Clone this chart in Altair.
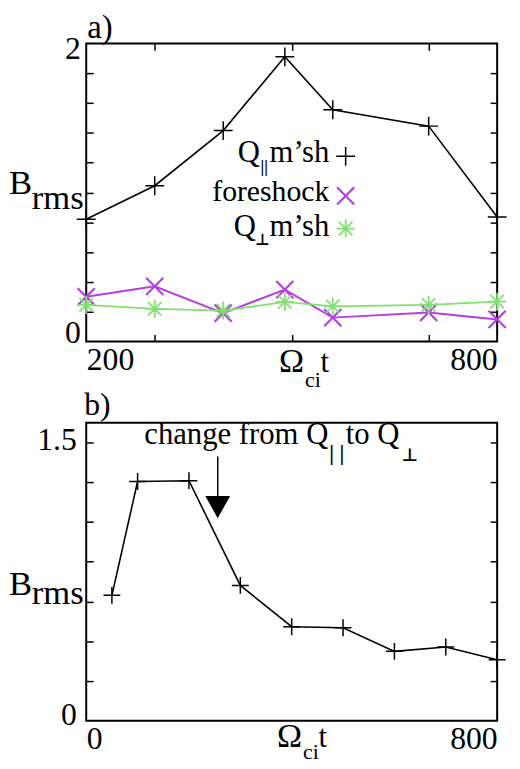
import altair as alt
import pandas as pd

SERIF = "Liberation Serif, Times New Roman, serif"
SYM = "DejaVu Sans"
MAG = "#b83ede"
GRN = "#82e070"

# ---------------- panel a data ----------------
t_a = [200, 300, 400, 490, 560, 700, 800]
qpar_a = [0.82, 1.045, 1.415, 1.91, 1.555, 1.445, 0.835]
fore_a = [0.30, 0.37, 0.19, 0.348, 0.16, 0.195, 0.148]
qperp_a = [0.245, 0.219, 0.207, 0.265, 0.235, 0.245, 0.267]

a_xdomain = [200, 800]
a_ydomain = [0, 2]
a_xlabels = [200, 800]
a_xticks = [300, 500, 700]
a_ylabels = [0, 2]
a_yticks = [0.2, 0.4, 0.6, 0.8, 1.0, 1.2, 1.4, 1.6, 1.8]

# ---------------- panel b data ----------------
t_b = [50, 100, 200, 300, 400, 500, 600, 700, 800]
brms_b = [0.631, 1.204, 1.208, 0.681, 0.473, 0.468, 0.349, 0.371, 0.307]

b_xdomain = [0, 800]
b_ydomain = [0, 1.5]
b_xlabels = [0, 800]
b_ylabels = [0, 1.5]
b_yticks = [0.2, 0.4, 0.6, 0.8, 1.0, 1.2, 1.4]

arrow_t = [256]
arrow_start = [1.33]
arrow_end = [1.12]
arrow_tip = [1.075]

W, H = 415, 301

PLUS = "M-1,0L1,0M0,-1L0,1"
CROSS = "M-1,-1L1,1M-1,1L1,-1"
STAR = PLUS + "M-0.75,-0.75L0.75,0.75M-0.75,0.75L0.75,-0.75"
HEAD = "M-1,-0.9L1,-0.9L0,0.9Z"


def label_axis_x(values):
    return alt.Axis(orient="bottom", values=values, format="d", labelFlush=True,
                    ticks=False, domain=False, grid=False, title=None,
                    labelFont=SERIF, labelFontSize=32, labelColor="black", labelPadding=3)


def label_axis_y(values, pad, fmt, off_low, off_high):
    return alt.Axis(orient="left", values=values, format=fmt, labelFlush=False,
                    labelBaseline="middle",
                    labelOffset={"condition": {"test": "datum.value === 0", "value": off_low},
                                 "value": off_high},
                    ticks=False, domain=False, grid=False, title=None,
                    labelFont=SERIF, labelFontSize=32, labelColor="black", labelPadding=pad)


def tick_axis(orient, values, offset):
    return alt.Axis(orient=orient, offset=offset, values=values, labels=False,
                    ticks=True, tickSize=7, tickWidth=1.5, tickColor="black",
                    domain=False, grid=False, title=None, minExtent=0)


def txt(s, x, y, size, align="left", font=SERIF, weight="normal"):
    return alt.Chart(pd.DataFrame({"s": [s]})).mark_text(
        x=x, y=y, fontSize=size, font=font, align=align, baseline="alphabetic",
        fontWeight=weight, color="black").encode(text="s:N")


def sym(shape, x, y, size, color, sw):
    return alt.Chart(pd.DataFrame({"s": [0]})).mark_point(
        shape=shape, x=x, y=y, size=size, filled=False, strokeWidth=sw,
        opacity=1).encode(color=alt.value(color))


# ---------------- panel a ----------------
df_a = pd.DataFrame({"t": t_a, "qpar": qpar_a, "fore": fore_a, "qperp": qperp_a})
xs_a = alt.Scale(domain=a_xdomain, nice=False, zero=False)
ys_a = alt.Scale(domain=a_ydomain, nice=False, zero=False)
base_a = alt.Chart(df_a)

a_layers = [
    base_a.mark_line(color="black", strokeWidth=1.6).encode(
        x=alt.X("t:Q", scale=xs_a, axis=label_axis_x(a_xlabels)),
        y=alt.Y("qpar:Q", scale=ys_a, axis=label_axis_y(a_ylabels, 6, "d", -9, 5))),
    base_a.mark_point(shape=PLUS, size=360, filled=False, strokeWidth=1.5, opacity=1).encode(
        x=alt.X("t:Q", scale=xs_a, axis=tick_axis("top", a_xticks, -H)),
        y=alt.Y("qpar:Q", scale=ys_a, axis=tick_axis("right", a_yticks, -W)),
        color=alt.value("black")),
    base_a.mark_line(color=MAG, strokeWidth=2).encode(
        x=alt.X("t:Q", scale=xs_a, axis=tick_axis("bottom", a_xticks, -H)),
        y=alt.Y("fore:Q", scale=ys_a, axis=tick_axis("left", a_yticks, -W))),
    base_a.mark_point(shape=CROSS, size=300, filled=False, strokeWidth=2.2, opacity=1).encode(
        x=alt.X("t:Q", scale=xs_a, axis=None),
        y=alt.Y("fore:Q", scale=ys_a, axis=None),
        color=alt.value(MAG)),
    base_a.mark_line(color=GRN, strokeWidth=1.8).encode(
        x=alt.X("t:Q", scale=xs_a, axis=None),
        y=alt.Y("qperp:Q", scale=ys_a, axis=None)),
    base_a.mark_point(shape=STAR, size=330, filled=False, strokeWidth=1.8, opacity=1).encode(
        x=alt.X("t:Q", scale=xs_a, axis=None),
        y=alt.Y("qperp:Q", scale=ys_a, axis=None),
        color=alt.value(GRN)),
    # panel letter and y title
    txt("a)", 1, -5, 33),
    txt("B", -78, 152, 35),
    txt("rms", -55, 167, 35),
    # legend
    txt("Q", 175.5, 120, 31, align="right"),
    txt("||", 176, 130, 17, weight="bold"),
    txt("m\u2019sh", 245.5, 120, 31, align="right"),
    sym(PLUS, 262, 114, 360, "black", 1.5),
    txt("foreshock", 245.5, 159, 30, align="right"),
    sym(CROSS, 262, 154, 300, MAG, 2.2),
    txt("Q", 171.5, 194, 31, align="right"),
    txt("\u22a5", 178, 204, 16, align="center", font=SYM, weight="bold"),
    txt("m\u2019sh", 245.5, 194, 31, align="right"),
    sym(STAR, 262, 187, 330, GRN, 1.8),
    # x title
    txt("\u03a9", 220, H + 31, 34, align="right"),
    txt("ci", 221, H + 46, 22),
    txt("t", 236.5, H + 31, 31),
]

panel_a = alt.layer(*a_layers).resolve_axis(x="independent", y="independent").properties(
    width=W, height=H)

# ---------------- panel b ----------------
df_b = pd.DataFrame({"t": t_b, "brms": brms_b})
df_arrow = pd.DataFrame({"t": arrow_t, "y1": arrow_start, "y2": arrow_end, "tip": arrow_tip})
xs_b = alt.Scale(domain=b_xdomain, nice=False, zero=False)
ys_b = alt.Scale(domain=b_ydomain, nice=False, zero=False)
base_b = alt.Chart(df_b)

b_layers = [
    base_b.mark_line(color="black", strokeWidth=1.6).encode(
        x=alt.X("t:Q", scale=xs_b, axis=label_axis_x(b_xlabels)),
        y=alt.Y("brms:Q", scale=ys_b, axis=label_axis_y(b_ylabels, 10, ".1~f", -6, 17))),
    base_b.mark_point(shape=PLUS, size=290, filled=False, strokeWidth=1.5, opacity=1).encode(
        x=alt.X("t:Q", scale=xs_b, axis=None),
        y=alt.Y("brms:Q", scale=ys_b, axis=tick_axis("right", b_yticks, -W)),
        color=alt.value("black")),
    alt.Chart(df_arrow).mark_rule(color="black", strokeWidth=1.5).encode(
        x=alt.X("t:Q", scale=xs_b, axis=None),
        y=alt.Y("y1:Q", scale=ys_b, axis=tick_axis("left", b_yticks, -W)),
        y2="y2:Q"),
    alt.Chart(df_arrow).mark_point(shape=HEAD, size=625, filled=True, opacity=1).encode(
        x=alt.X("t:Q", scale=xs_b, axis=None),
        y=alt.Y("tip:Q", scale=ys_b, axis=None),
        color=alt.value("black")),
    txt("b)", -2, -8, 32),
    txt("B", -78, 174, 35),
    txt("rms", -55, 183, 35),
    # annotation
    txt("change from Q", 244.5, 22, 31, align="right"),
    txt("| |", 245.5, 38, 22, weight="bold"),
    txt("to Q", 262, 22, 31),
    txt("\u22a5", 318.5, 39, 18, font=SYM, weight="bold"),
    # x title
    txt("\u03a9", 218, H + 27, 34, align="right"),
    txt("ci", 219, H + 39, 22),
    txt("t", 234.5, H + 27, 31),
]

panel_b = alt.layer(*b_layers).resolve_axis(x="independent", y="independent").properties(
    width=W, height=H)

chart = alt.vconcat(
    panel_a, panel_b, spacing=82, bounds="flush",
    padding={"left": 0, "top": 0, "right": 0, "bottom": 0},
    autosize=alt.AutoSizeParams(type="pad"),
).configure_view(stroke="black", strokeWidth=2)

chart.save("out.html", embed_options={"renderer": "svg", "actions": False})
